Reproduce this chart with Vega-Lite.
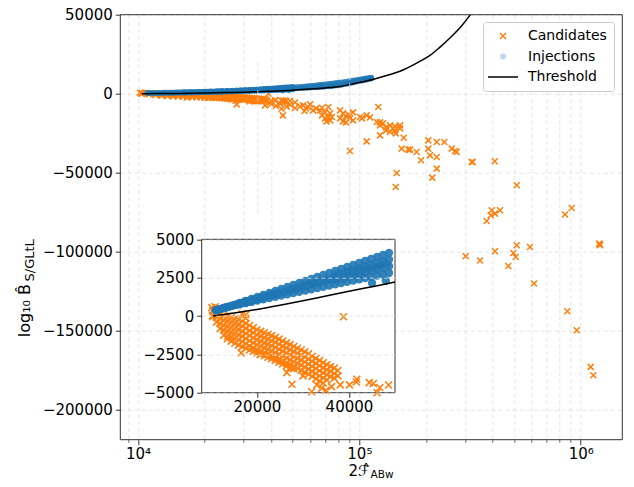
{
  "$schema": "https://vega.github.io/schema/vega-lite/v6.json",
  "width": 502,
  "height": 425,
  "autosize": {"type": "none"},
  "padding": {"left": 120.3, "top": 14.7, "right": 11.7, "bottom": 47.3},
  "config": {
    "font": "DejaVu Sans",
    "view": {"stroke": null},
    "axis": {"labelFont": "DejaVu Sans", "labelFontSize": 15, "labelColor": "#000000", "tickColor": "#333333", "domainColor": "#333333", "gridColor": "#dedede", "gridDash": [4, 3], "gridWidth": 0.8, "tickSize": 5, "tickWidth": 1, "labelPadding": 3, "titleFont": "DejaVu Sans", "titleColor": "#000000", "titleFontWeight": "normal", "labelFlush": false, "labelOverlap": false},
    "legend": {"labelFont": "DejaVu Sans", "labelFontSize": 14, "labelColor": "#000000", "orient": "none", "legendX": 362.7, "legendY": 7.3, "symbolSize": 36, "symbolOffset": 6, "labelOffset": 18, "rowPadding": 6.5, "padding": 7, "strokeColor": "#cccccc", "fillColor": "rgba(255,255,255,0.8)", "cornerRadius": 3, "symbolStrokeWidth": 1.5}
  },
  "datasets": {
    "cand": [
      {"x":10200,"y":550},{"x":10900,"y":600},
      {"x":10400,"y":350},{"x":10400,"y":50},{"x":10400,"y":-50},
      {"x":11200,"y":250},{"x":11200,"y":-80},{"x":11200,"y":-400},
      {"x":12000,"y":150},{"x":12000,"y":-170},{"x":12000,"y":-500},{"x":12000,"y":-820},
      {"x":12800,"y":40},{"x":12800,"y":-280},{"x":12800,"y":-600},{"x":12800,"y":-920},{"x":12800,"y":-1250},
      {"x":13600,"y":-30},{"x":13600,"y":-350},{"x":13600,"y":-680},{"x":13600,"y":-1000},{"x":13600,"y":-1320},{"x":13600,"y":-1480},
      {"x":14400,"y":-100},{"x":14400,"y":-420},{"x":14400,"y":-750},{"x":14400,"y":-1080},{"x":14400,"y":-1400},{"x":14400,"y":-1640},
      {"x":15200,"y":-180},{"x":15200,"y":-500},{"x":15200,"y":-830},{"x":15200,"y":-1150},{"x":15200,"y":-1480},{"x":15200,"y":-1780},
      {"x":16000,"y":-230},{"x":16000,"y":-560},{"x":16000,"y":-890},{"x":16000,"y":-1220},{"x":16000,"y":-1550},{"x":16000,"y":-1900},
      {"x":16800,"y":150},{"x":16800,"y":-340},{"x":16800,"y":-670},{"x":16800,"y":-1000},{"x":16800,"y":-1330},{"x":16800,"y":-1660},{"x":16800,"y":-2000},
      {"x":17600,"y":100},{"x":17600,"y":-150},{"x":17600,"y":-480},{"x":17600,"y":-810},{"x":17600,"y":-1140},{"x":17600,"y":-1470},{"x":17600,"y":-1800},{"x":17600,"y":-2100},
      {"x":18400,"y":-620},{"x":18400,"y":-950},{"x":18400,"y":-1280},{"x":18400,"y":-1610},{"x":18400,"y":-1940},{"x":18400,"y":-2220},
      {"x":19200,"y":-760},{"x":19200,"y":-1090},{"x":19200,"y":-1420},{"x":19200,"y":-1750},{"x":19200,"y":-2080},{"x":19200,"y":-2300},
      {"x":20000,"y":-900},{"x":20000,"y":-1230},{"x":20000,"y":-1560},{"x":20000,"y":-1890},{"x":20000,"y":-2220},{"x":20000,"y":-2400},
      {"x":20800,"y":-1000},{"x":20800,"y":-1330},{"x":20800,"y":-1660},{"x":20800,"y":-1990},{"x":20800,"y":-2320},{"x":20800,"y":-2500},
      {"x":21600,"y":-1090},{"x":21600,"y":-1420},{"x":21600,"y":-1750},{"x":21600,"y":-2080},{"x":21600,"y":-2410},{"x":21600,"y":-2590},
      {"x":22400,"y":-1190},{"x":22400,"y":-1520},{"x":22400,"y":-1850},{"x":22400,"y":-2180},{"x":22400,"y":-2510},{"x":22400,"y":-2690},
      {"x":23200,"y":-1280},{"x":23200,"y":-1610},{"x":23200,"y":-1940},{"x":23200,"y":-2270},{"x":23200,"y":-2600},{"x":23200,"y":-2780},
      {"x":24000,"y":-1390},{"x":24000,"y":-1720},{"x":24000,"y":-2050},{"x":24000,"y":-2380},{"x":24000,"y":-2710},{"x":24000,"y":-2890},
      {"x":24800,"y":-1510},{"x":24800,"y":-1840},{"x":24800,"y":-2170},{"x":24800,"y":-2500},{"x":24800,"y":-2830},{"x":24800,"y":-3010},
      {"x":25600,"y":-1630},{"x":25600,"y":-1960},{"x":25600,"y":-2290},{"x":25600,"y":-2620},{"x":25600,"y":-2950},{"x":25600,"y":-3130},
      {"x":26400,"y":-1750},{"x":26400,"y":-2080},{"x":26400,"y":-2410},{"x":26400,"y":-2740},{"x":26400,"y":-3070},{"x":26400,"y":-3250},
      {"x":27200,"y":-1870},{"x":27200,"y":-2200},{"x":27200,"y":-2530},{"x":27200,"y":-2860},{"x":27200,"y":-3190},{"x":27200,"y":-3370},
      {"x":28000,"y":-1990},{"x":28000,"y":-2320},{"x":28000,"y":-2650},{"x":28000,"y":-2980},{"x":28000,"y":-3310},{"x":28000,"y":-3440},
      {"x":28800,"y":-2100},{"x":28800,"y":-2430},{"x":28800,"y":-2760},{"x":28800,"y":-3090},{"x":28800,"y":-3420},
      {"x":29600,"y":-2220},{"x":29600,"y":-2550},{"x":29600,"y":-2880},{"x":29600,"y":-3210},{"x":29600,"y":-3540},
      {"x":30400,"y":-2340},{"x":30400,"y":-2670},{"x":30400,"y":-3000},{"x":30400,"y":-3330},{"x":30400,"y":-3660},
      {"x":31200,"y":-2470},{"x":31200,"y":-2800},{"x":31200,"y":-3130},{"x":31200,"y":-3460},{"x":31200,"y":-3790},
      {"x":32000,"y":-2620},{"x":32000,"y":-2950},{"x":32000,"y":-3280},{"x":32000,"y":-3610},{"x":32000,"y":-3940},
      {"x":32800,"y":-2760},{"x":32800,"y":-3090},{"x":32800,"y":-3420},{"x":32800,"y":-3750},{"x":32800,"y":-4080},
      {"x":33600,"y":-2910},{"x":33600,"y":-3240},{"x":33600,"y":-3570},{"x":33600,"y":-3900},{"x":33600,"y":-4230},
      {"x":34400,"y":-3050},{"x":34400,"y":-3380},{"x":34400,"y":-3710},{"x":34400,"y":-4040},{"x":34400,"y":-4370},
      {"x":35200,"y":-3160},{"x":35200,"y":-3500},{"x":35200,"y":-3830},{"x":35200,"y":-4160},
      {"x":36000,"y":-3300},{"x":36000,"y":-3620},{"x":36000,"y":-3950},
      {"x":36800,"y":-3400},{"x":36800,"y":-3750},{"x":36800,"y":-4050},
      {"x":37600,"y":-3550},{"x":37600,"y":-3900},
      {"x":16600,"y":-2400},{"x":20700,"y":-2510},{"x":26500,"y":-3690},{"x":27600,"y":-4450},{"x":38800,"y":-50},
      {"x":38100,"y":-4490},{"x":40100,"y":-4490},{"x":41700,"y":-4120},{"x":44400,"y":-4340},{"x":45300,"y":-4400},{"x":46700,"y":-4660},
      {"x":34100,"y":-4700},{"x":35000,"y":-4850},{"x":36200,"y":-4600},{"x":31900,"y":-4940},{"x":30000,"y":-3900},{"x":33000,"y":-4500},
      {"x":27900,"y":-6770},{"x":37500,"y":-7400},{"x":45100,"y":-13720},
      {"x":39500,"y":-5500},{"x":41600,"y":-4300},{"x":43800,"y":-6300},{"x":46100,"y":-5000},{"x":48600,"y":-7000},{"x":51200,"y":-5600},
      {"x":53900,"y":-8000},{"x":51200,"y":-9000},{"x":48600,"y":-4500},{"x":42000,"y":-7800},{"x":44500,"y":-9500},{"x":40000,"y":-6500},{"x":47000,"y":-8200},
      {"x":55700,"y":-7340},{"x":57400,"y":-9300},{"x":59900,"y":-6770},{"x":61800,"y":-10560},{"x":58600,"y":-8410},{"x":56500,"y":-11000},
      {"x":63700,"y":-9300},{"x":66400,"y":-10560},{"x":70000,"y":-11830},{"x":72400,"y":-8410},{"x":73700,"y":-12460},{"x":67800,"y":-8850},
      {"x":67800,"y":-13720},{"x":70000,"y":-15620},{"x":72400,"y":-14990},{"x":73700,"y":-16890},{"x":75200,"y":-14800},{"x":71000,"y":-17520},
      {"x":81800,"y":-10560},{"x":84400,"y":-12460},{"x":87000,"y":-14360},{"x":90700,"y":-15620},{"x":93600,"y":-11830},{"x":81800,"y":-15620},
      {"x":84400,"y":-17520},{"x":87000,"y":-18150},{"x":93600,"y":-16890},{"x":89000,"y":-13100},
      {"x":100700,"y":-14800},{"x":107900,"y":-13720},{"x":111700,"y":-14990},{"x":102800,"y":-15620},
      {"x":90700,"y":-36300},{"x":107900,"y":-30170},{"x":121800,"y":-8410},{"x":124000,"y":-26370},
      {"x":119800,"y":-17960},{"x":124000,"y":-20050},{"x":127900,"y":-18780},{"x":132000,"y":-21310},{"x":137600,"y":-20050},{"x":141900,"y":-21940},
      {"x":144900,"y":-20680},{"x":152600,"y":-20050},{"x":137600,"y":-24280},{"x":144900,"y":-23210},{"x":132000,"y":-23210},{"x":146000,"y":-25110},
      {"x":152600,"y":-21940},{"x":124000,"y":-18150},{"x":158600,"y":-27830},
      {"x":147500,"y":-50210},{"x":146000,"y":-59070},{"x":155300,"y":-34780},{"x":166400,"y":-35410},{"x":169400,"y":-35410},{"x":181500,"y":-36930},
      {"x":189900,"y":-42180},{"x":204800,"y":-29530},{"x":223600,"y":-30610},{"x":242000,"y":-30610},{"x":204800,"y":-34780},{"x":208500,"y":-39020},
      {"x":223600,"y":-40090},{"x":223600,"y":-47430},{"x":213500,"y":-53120},{"x":261400,"y":-34780},{"x":270500,"y":-36300},{"x":275300,"y":-36930},
      {"x":321700,"y":-43260},{"x":325100,"y":-43260},{"x":408800,"y":-42810},{"x":513800,"y":-57990},{"x":376100,"y":-80570},{"x":392100,"y":-76960},
      {"x":396200,"y":-73800},{"x":410000,"y":-75890},{"x":431900,"y":-73800},{"x":849000,"y":-76520},{"x":910200,"y":-72350},{"x":302200,"y":-102890},
      {"x":350800,"y":-105610},{"x":410000,"y":-99730},{"x":470900,"y":-109030},{"x":496000,"y":-100800},{"x":508500,"y":-103330},{"x":513800,"y":-95930},
      {"x":589900,"y":-97010},{"x":615000,"y":-120160},{"x":869500,"y":-137680},{"x":959200,"y":-149690},{"x":1109000,"y":-172900},{"x":1140000,"y":-178150},
      {"x":1213000,"y":-94860},{"x":1222000,"y":-95930},{"x":1218000,"y":-95300}
    ],
    "inj": [
      {"x":11000,"y":373},{"x":12300,"y":480},{"x":13600,"y":586},{"x":14900,"y":693},
      {"x":16200,"y":754},{"x":16200,"y":844},{"x":17500,"y":836},{"x":17500,"y":975},
      {"x":18800,"y":918},{"x":18800,"y":1106},{"x":20100,"y":1000},{"x":20100,"y":1236},
      {"x":21400,"y":1082},{"x":21400,"y":1367},{"x":22700,"y":1163},{"x":22700,"y":1498},
      {"x":24000,"y":1245},{"x":24000,"y":1437},{"x":24000,"y":1629},
      {"x":25300,"y":1327},{"x":25300,"y":1543},{"x":25300,"y":1760},
      {"x":26600,"y":1409},{"x":26600,"y":1650},{"x":26600,"y":1891},
      {"x":27900,"y":1491},{"x":27900,"y":1756},{"x":27900,"y":2022},
      {"x":29200,"y":1573},{"x":29200,"y":1863},{"x":29200,"y":2153},
      {"x":30500,"y":1655},{"x":30500,"y":1970},{"x":30500,"y":2284},
      {"x":31800,"y":1737},{"x":31800,"y":2076},{"x":31800,"y":2415},
      {"x":33100,"y":1819},{"x":33100,"y":2182},{"x":33100,"y":2546},
      {"x":34400,"y":1901},{"x":34400,"y":2289},{"x":34400,"y":2677},
      {"x":35700,"y":1982},{"x":35700,"y":2395},{"x":35700,"y":2807},
      {"x":37000,"y":2064},{"x":37000,"y":2355},{"x":37000,"y":2647},{"x":37000,"y":2938},
      {"x":38300,"y":2146},{"x":38300,"y":2454},{"x":38300,"y":2761},{"x":38300,"y":3069},
      {"x":39600,"y":2228},{"x":39600,"y":2552},{"x":39600,"y":2876},{"x":39600,"y":3200},
      {"x":40900,"y":2310},{"x":40900,"y":2650},{"x":40900,"y":2991},{"x":40900,"y":3331},
      {"x":42200,"y":2392},{"x":42200,"y":2749},{"x":42200,"y":3105},{"x":42200,"y":3462},
      {"x":43500,"y":2474},{"x":43500,"y":2847},{"x":43500,"y":3220},{"x":43500,"y":3593},
      {"x":44800,"y":2556},{"x":44800,"y":2945},{"x":44800,"y":3335},{"x":44800,"y":3724},
      {"x":46100,"y":2638},{"x":46100,"y":3044},{"x":46100,"y":3449},{"x":46100,"y":3855},
      {"x":47400,"y":2720},{"x":47400,"y":3142},{"x":47400,"y":3564},{"x":47400,"y":3986},
      {"x":48700,"y":2801},{"x":48700,"y":3240},{"x":48700,"y":3679},{"x":48700,"y":4117},
      {"x":50000,"y":2883},{"x":50000,"y":3224},{"x":50000,"y":3565},{"x":50000,"y":3906},{"x":50000,"y":4247},
      {"x":45000,"y":2150},{"x":48000,"y":2300},
      {"x":11300,"y":398},{"x":11650,"y":426},{"x":11950,"y":451},{"x":12650,"y":508},{"x":13000,"y":537},{"x":13250,"y":557},
      {"x":13950,"y":615},{"x":14300,"y":643},{"x":14600,"y":668},{"x":15250,"y":721},{"x":15600,"y":750},{"x":15900,"y":774},
      {"x":16550,"y":827},{"x":16850,"y":852},{"x":17150,"y":877},{"x":17850,"y":934},{"x":18150,"y":958},{"x":18450,"y":983},
      {"x":19150,"y":1040},{"x":19450,"y":1065},{"x":19750,"y":1089},{"x":20450,"y":1147},{"x":20750,"y":1171},{"x":21050,"y":1196},
      {"x":21750,"y":1253},{"x":22050,"y":1278},{"x":22350,"y":1302},{"x":23050,"y":1359},{"x":23350,"y":1384},{"x":23650,"y":1409},
      {"x":24650,"y":1490},{"x":25950,"y":1597},{"x":27250,"y":1703},{"x":28550,"y":1809},{"x":29850,"y":1916},{"x":31150,"y":2022},
      {"x":32450,"y":2129},{"x":33750,"y":2235},{"x":35050,"y":2341},{"x":36350,"y":2448},{"x":37650,"y":2554},{"x":38950,"y":2660},
      {"x":40250,"y":2767},{"x":41550,"y":2873},{"x":42850,"y":2980},{"x":44150,"y":3086},{"x":45450,"y":3192},{"x":46750,"y":3299},
      {"x":48050,"y":3405},{"x":49350,"y":3511},
      {"x":52000,"y":3400},{"x":52000,"y":4050},{"x":54000,"y":3530},{"x":54000,"y":4250},
      {"x":56000,"y":3650},{"x":56000,"y":4450},{"x":58000,"y":3780},{"x":58000,"y":4650},
      {"x":60000,"y":3900},{"x":60000,"y":4850},{"x":62000,"y":4030},{"x":62000,"y":5050},
      {"x":64000,"y":4150},{"x":64000,"y":5250},{"x":66000,"y":4280},{"x":66000,"y":5450},
      {"x":68000,"y":4400},{"x":68000,"y":5650},{"x":70000,"y":4550},{"x":70000,"y":5860},
      {"x":72500,"y":4720},{"x":72500,"y":6100},{"x":75000,"y":4900},{"x":75000,"y":6350},
      {"x":77500,"y":5120},{"x":77500,"y":6600},{"x":80000,"y":5350},{"x":80000,"y":6850},
      {"x":83000,"y":5700},{"x":83000,"y":7150},{"x":86000,"y":6100},{"x":86000,"y":7450},
      {"x":89000,"y":6400},{"x":89000,"y":7750},{"x":92000,"y":6900},{"x":92000,"y":8050},
      {"x":95000,"y":7400},{"x":95000,"y":8350},{"x":98000,"y":7800},{"x":98000,"y":8650},
      {"x":101000,"y":8200},{"x":101000,"y":8950},{"x":104000,"y":8550},{"x":104000,"y":9250},
      {"x":107000,"y":8900},{"x":107000,"y":9550},{"x":110000,"y":9300},{"x":110000,"y":9850},
      {"x":113000,"y":9650},{"x":113000,"y":10150}
    ],
    "thr": [
      {"x":10400,"y":0},{"x":11000,"y":20},{"x":12000,"y":60},{"x":13500,"y":130},{"x":15000,"y":200},
      {"x":17500,"y":310},{"x":20000,"y":430},{"x":25000,"y":700},{"x":30000,"y":990},{"x":35000,"y":1300},
      {"x":40000,"y":1610},{"x":45000,"y":1910},{"x":50000,"y":2210},{"x":60000,"y":2900},{"x":70000,"y":3650},
      {"x":81760,"y":4617},{"x":95000,"y":6500},{"x":115000,"y":9040},{"x":135000,"y":11800},{"x":152600,"y":14200},
      {"x":164100,"y":16200},{"x":185000,"y":20000},{"x":208500,"y":24220},{"x":231400,"y":29470},{"x":260000,"y":36000},
      {"x":290000,"y":43000},{"x":316100,"y":49700},{"x":340000,"y":56000}
    ]
  },
  "layer": [
    {
      "data": {"name": "cand"},
      "mark": {"type": "point", "shape": "M-1,-1L1,1M-1,1L1,-1", "strokeWidth": 1.5, "size": 36, "opacity": 1},
      "encoding": {
        "x": {"field": "x", "type": "quantitative",
          "scale": {"type": "log", "domain": [8318, 1541000], "nice": false},
          "axis": {"orient": "bottom", "values": [10000, 100000, 1000000], "labelExpr": "datum.value == 10000 ? '10\u2074' : datum.value == 100000 ? '10\u2075' : '10\u2076'", "grid": true, "domain": false, "labelPadding": 2, "title": "2\u2131\u0302", "titleFontSize": 15, "titleX": 227.7, "titleY": 35.6, "titleAlign": "left", "titleBaseline": "alphabetic", "titleAngle": 0}},
        "y": {"field": "y", "type": "quantitative",
          "scale": {"domain": [-219000, 50000], "nice": false, "zero": false},
          "axis": {"orient": "left", "values": [50000, 0, -50000, -100000, -150000, -200000], "format": "d", "grid": true, "domain": false, "title": "log\u2081\u2080 B\u0302", "titleFontSize": 16, "titleX": -90.8, "titleY": 322, "titleAlign": "left", "titleBaseline": "alphabetic", "titleAngle": 270}},
        "stroke": {"datum": "Candidates", "type": "nominal",
          "scale": {"domain": ["Candidates", "Injections", "Threshold"], "range": ["#ff7f0e", "transparent", "#000000"]},
          "legend": {"title": null, "encode": {"symbols": {"update": {
              "shape": {"signal": "datum.value === 'Candidates' ? 'M-1,-1L1,1M-1,1L1,-1' : datum.value === 'Injections' ? 'circle' : 'M-5,0L5,0'"},
              "opacity": {"value": 1}
            }}}}},
        "fill": {"datum": "Candidates", "type": "nominal",
          "scale": {"domain": ["Candidates", "Injections", "Threshold"], "range": ["transparent", "#c2d7ea", "transparent"]},
          "legend": {"title": null, "encode": {"symbols": {"update": {
              "shape": {"signal": "datum.value === 'Candidates' ? 'M-1,-1L1,1M-1,1L1,-1' : datum.value === 'Injections' ? 'circle' : 'M-5,0L5,0'"},
              "opacity": {"value": 1}
            }}}}}
      }
    },
    {
      "data": {"name": "inj"},
      "mark": {"type": "circle", "size": 36, "opacity": 0.85, "color": "#1f77b4"},
      "encoding": {
        "x": {"field": "x", "type": "quantitative",
          "scale": {"type": "log", "domain": [8318, 1541000], "nice": false},
          "axis": {"orient": "bottom", "labels": false, "ticks": false, "domain": false, "grid": false, "title": "ABw", "titleFontSize": 10.5, "titleX": 249.7, "titleY": 38, "titleAlign": "left", "titleBaseline": "alphabetic", "titleAngle": 0}},
        "y": {"field": "y", "type": "quantitative",
          "scale": {"domain": [-219000, 50000], "nice": false, "zero": false},
          "axis": {"orient": "left", "labels": false, "ticks": false, "domain": false, "grid": false, "title": "S/GLtL", "titleFontSize": 13, "titleX": -86.8, "titleY": 266.3, "titleAlign": "left", "titleBaseline": "alphabetic", "titleAngle": 270}}
      }
    },
    {
      "data": {"name": "thr"},
      "mark": {"type": "line", "strokeWidth": 1.5, "clip": true, "interpolate": "monotone"},
      "encoding": {
        "x": {"field": "x", "type": "quantitative",
          "scale": {"type": "log", "domain": [8318, 1541000], "nice": false},
          "axis": {"orient": "bottom", "values": [9000, 20000, 30000, 40000, 50000, 60000, 70000, 80000, 90000, 200000, 300000, 400000, 500000, 600000, 700000, 800000, 900000], "labels": false, "domain": false, "tickSize": 2.5, "tickWidth": 0.8, "grid": true, "title": null}},
        "y": {"field": "y", "type": "quantitative",
          "scale": {"domain": [-219000, 50000], "nice": false, "zero": false}, "axis": null},
        "stroke": {"datum": "Threshold", "type": "nominal",
          "legend": {"title": null, "encode": {"symbols": {"update": {
              "shape": {"signal": "datum.value === 'Candidates' ? 'M-1,-1L1,1M-1,1L1,-1' : datum.value === 'Injections' ? 'circle' : 'M-5,0L5,0'"},
              "opacity": {"value": 1}
            }}}}}
      }
    },
    {
      "data": {"values": [{"k": 1}]},
      "mark": {"type": "rect", "fill": "#ffffff", "stroke": "#333333", "strokeWidth": 1},
      "encoding": {
        "x": {"datum": 8000, "type": "quantitative",
          "scale": {"domain": [8000, 50000], "range": [81.4, 274.7], "nice": false, "zero": false},
          "axis": {"orient": "bottom", "offset": -47.3, "values": [20000, 40000], "format": "d", "grid": true, "domain": false, "title": null, "zindex": 1, "labelPadding": 2}},
        "x2": {"datum": 50000},
        "y": {"datum": -5000, "type": "quantitative",
          "scale": {"domain": [-5000, 5000], "range": [378, 224.6], "nice": false, "zero": false},
          "axis": {"orient": "left", "offset": -81.4, "values": [-5000, -2500, 0, 2500, 5000], "format": "d", "grid": true, "domain": false, "title": null, "zindex": 1}},
        "y2": {"datum": 5000}
      }
    },
    {
      "data": {"name": "cand"},
      "transform": [{"filter": "datum.x <= 50000 && datum.y >= -5000 && datum.y <= 5000"}],
      "mark": {"type": "point", "shape": "M-1,-1L1,1M-1,1L1,-1", "strokeWidth": 1.6, "size": 49, "opacity": 1},
      "encoding": {
        "x": {"field": "x", "type": "quantitative",
          "scale": {"domain": [8000, 50000], "range": [81.4, 274.7], "nice": false, "zero": false}, "axis": null},
        "y": {"field": "y", "type": "quantitative",
          "scale": {"domain": [-5000, 5000], "range": [378, 224.6], "nice": false, "zero": false}, "axis": null},
        "stroke": {"datum": "Candidates", "type": "nominal",
          "legend": {"title": null, "encode": {"symbols": {"update": {
              "shape": {"signal": "datum.value === 'Candidates' ? 'M-1,-1L1,1M-1,1L1,-1' : datum.value === 'Injections' ? 'circle' : 'M-5,0L5,0'"},
              "opacity": {"value": 1}
            }}}}},
        "fill": {"datum": "Candidates", "type": "nominal",
          "legend": {"title": null, "encode": {"symbols": {"update": {
              "shape": {"signal": "datum.value === 'Candidates' ? 'M-1,-1L1,1M-1,1L1,-1' : datum.value === 'Injections' ? 'circle' : 'M-5,0L5,0'"},
              "opacity": {"value": 1}
            }}}}}
      }
    },
    {
      "data": {"name": "inj"},
      "transform": [{"filter": "datum.x <= 49000"}],
      "mark": {"type": "circle", "size": 70, "opacity": 0.9, "color": "#1f77b4"},
      "encoding": {
        "x": {"field": "x", "type": "quantitative",
          "scale": {"domain": [8000, 50000], "range": [81.4, 274.7], "nice": false, "zero": false}, "axis": null},
        "y": {"field": "y", "type": "quantitative",
          "scale": {"domain": [-5000, 5000], "range": [378, 224.6], "nice": false, "zero": false}, "axis": null}
      }
    },
    {
      "data": {"name": "thr"},
      "transform": [{"filter": "datum.x <= 50000"}],
      "mark": {"type": "line", "strokeWidth": 1.5, "interpolate": "monotone"},
      "encoding": {
        "x": {"field": "x", "type": "quantitative",
          "scale": {"domain": [8000, 50000], "range": [81.4, 274.7], "nice": false, "zero": false}, "axis": null},
        "y": {"field": "y", "type": "quantitative",
          "scale": {"domain": [-5000, 5000], "range": [378, 224.6], "nice": false, "zero": false}, "axis": null},
        "stroke": {"datum": "Threshold", "type": "nominal",
          "legend": {"title": null, "encode": {"symbols": {"update": {
              "shape": {"signal": "datum.value === 'Candidates' ? 'M-1,-1L1,1M-1,1L1,-1' : datum.value === 'Injections' ? 'circle' : 'M-5,0L5,0'"},
              "opacity": {"value": 1}
            }}}}}
      }
    },
    {
      "data": {"values": [{"k": 1}]},
      "mark": {"type": "rect", "fill": null, "fillOpacity": 0, "stroke": "#333333", "strokeWidth": 1},
      "encoding": {
        "x": {"datum": 8318, "type": "quantitative",
          "scale": {"type": "log", "domain": [8318, 1541000], "nice": false}, "axis": null},
        "x2": {"datum": 1541000},
        "y": {"datum": -219000, "type": "quantitative",
          "scale": {"domain": [-219000, 50000], "nice": false, "zero": false}, "axis": null},
        "y2": {"datum": 50000}
      }
    }
  ],
  "resolve": {"scale": {"x": "independent", "y": "independent"}, "axis": {"x": "independent", "y": "independent"}}
}
